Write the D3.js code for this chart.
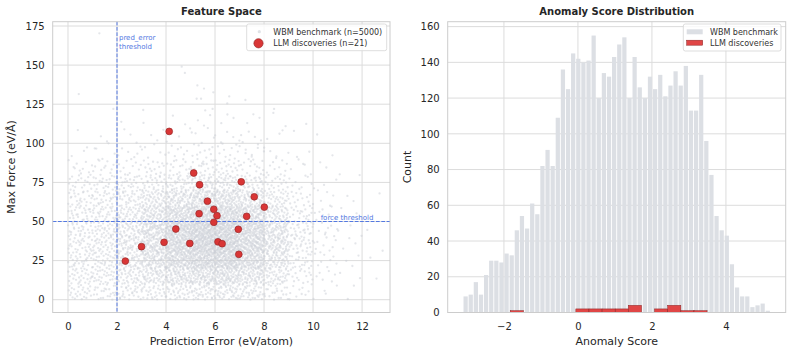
<!DOCTYPE html>
<html><head><meta charset="utf-8">
<script src="https://cdn.jsdelivr.net/npm/d3@7"></script>
<style>
body{margin:0;background:#fff}
text{font-family:"DejaVu Sans",sans-serif}
</style></head>
<body><svg id="c" width="793" height="355"></svg>
<script>
// ---------------- DATA ----------------
// LLM discoveries (21 points)
const llmPredError = [4.13,5.13,5.37,7.07,7.60,5.69,8.01,5.95,5.35,6.08,7.29,5.95,6.95,4.40,3.00,3.92,4.97,6.12,6.29,6.97,2.34];
const llmMaxForce  = [107.6,81,73.5,75.4,65.8,63,59.2,57.8,55,53.7,53.3,49.5,45,45.2,33.9,36.7,36,37,35.8,29,24.7];

// WBM benchmark cloud (n=5000), estimated as counts per cell (1 eV/atom x 10 eV/Å)
const wbmXEdges = [0,1,2,3,4,5,6,7,8,9,10,11,12,13];
const wbmYEdges = [0,10,20,30,40,50,60,70,80,90,100,110,120];
const wbmDensity = [ // one row per x-bin, one entry per y-bin
  [25,30,30,30,30,28,25,18,10,3,1,0],
  [25,32,34,35,35,32,28,20,12,5,2,0],
  [28,40,48,50,48,40,32,22,12,6,3,1],
  [30,55,75,85,85,70,48,28,14,6,3,1],
  [35,70,110,130,130,100,65,32,15,7,3,2],
  [40,80,130,160,160,120,80,40,20,10,5,3],
  [42,85,135,160,155,115,78,40,20,10,5,3],
  [35,65,100,120,120,90,57,30,15,8,5,3],
  [22,40,58,70,68,52,33,18,9,5,3,2],
  [10,16,22,26,25,20,14,8,5,2,1,1],
  [4,6,8,9,9,7,5,3,2,1,1,0],
  [2,2,3,3,3,3,2,1,1,0,0,0],
  [0,1,1,1,1,0,1,0,0,0,0,0]
];
const wbmOutliers = [[1.28,170.3],[0.44,131.5],[4.64,149],[4.77,145],[5.28,137],[5.55,135],[5.93,132.6],
  [5.25,128.5],[5.43,128.5],[6.58,130],[7.24,127.7],[8.41,122],[6.5,125.5],[5.6,121],[5.9,122],[3.07,121.3],[1.85,122]];

const predErrorThreshold = 2;
const forceThreshold = 50;

// Anomaly score histograms
const wbmScoreRange = [-3.105, 5.20];
const wbmScoreCounts = [9,10,17,10,21,29,29,28,33,32,46,54,47,61,55,82,91,82,109,136,
  125,145,142,140,141,155,120,134,132,143,150,154,120,143,126,120,132,125,133,121,
  127,135,127,138,113,113,133,96,77,54,46,43,27,14,9,9,3,4,5,1];
const llmScoreRange = [-1.83, 3.49];
const llmScoreCounts = [1,0,0,0,0,2,2,2,2,4,0,2,4,1,1];

const leftXTicks = [0,2,4,6,8,10,12];
const leftYTicks = [0,25,50,75,100,125,150,175];
const rightXTicks = [-2,0,2,4];
const rightYTicks = [0,20,40,60,80,100,120,140,160];

// ---------------- DRAW ----------------
const svg = d3.select("#c");
const TOP = 21.7, BOT = 312.5;
const gridC = "#dcdcdc", spineC = "#cccccc", txtC = "#262626";
const blue = "#5479e2";

function frame(x, y, xt, yt){
  const g = svg.append("g");
  g.selectAll(".gx").data(xt).join("line").attr("x1",d=>x(d)).attr("x2",d=>x(d))
    .attr("y1",TOP).attr("y2",BOT).attr("stroke",gridC).attr("stroke-width",1);
  g.selectAll(".gy").data(yt).join("line").attr("y1",d=>y(d)).attr("y2",d=>y(d))
    .attr("x1",x.range()[0]).attr("x2",x.range()[1]).attr("stroke",gridC).attr("stroke-width",1);
  return g;
}
function axes(x, y, xt, yt, fmt){
  const ax = svg.append("g").attr("transform",`translate(0,${BOT})`)
    .call(d3.axisBottom(x).tickValues(xt).tickSize(0).tickPadding(10).tickFormat(fmt));
  const ay = svg.append("g").attr("transform",`translate(${x.range()[0]},0)`)
    .call(d3.axisLeft(y).tickValues(yt).tickSize(0).tickPadding(8));
  [ax,ay].forEach(a=>{a.select(".domain").remove();
    a.selectAll("text").attr("fill",txtC).style("font-size","10px").style("font-family","DejaVu Sans");});
  svg.append("rect").attr("x",x.range()[0]).attr("y",TOP).attr("width",x.range()[1]-x.range()[0])
    .attr("height",BOT-TOP).attr("fill","none").attr("stroke",spineC).attr("stroke-width",1);
}
const minusFmt = d => d<0 ? "\u2212"+Math.abs(d) : String(d);

// ---- Left panel ----
const xL = d3.scaleLinear([-0.624, 13.14],[52.7,390]);
const yL = d3.scaleLinear([-8.18, 177.75],[BOT,TOP]);
frame(xL,yL,leftXTicks,leftYTicks);

function halton(i,b){let f=1,r=0;while(i>0){f/=b;r+=f*(i%b);i=Math.floor(i/b);}return r;}
const cloud = [];
let k = 1;
wbmDensity.forEach((row,ci)=>row.forEach((n,ri)=>{
  const x0=wbmXEdges[ci], x1=wbmXEdges[ci+1], y0=wbmYEdges[ri], y1=wbmYEdges[ri+1];
  for(let j=0;j<n;j++){ cloud.push([x0+halton(k,2)*(x1-x0), y0+halton(k,3)*(y1-y0)]); k++; }
}));
wbmOutliers.forEach(p=>cloud.push(p));
svg.append("g").selectAll("circle").data(cloud).join("circle")
  .attr("cx",d=>xL(d[0])).attr("cy",d=>yL(d[1])).attr("r",1.15)
  .attr("fill","#c9ced6").attr("fill-opacity",0.5);

// thresholds
svg.append("line").attr("x1",xL(predErrorThreshold)).attr("x2",xL(predErrorThreshold)).attr("y1",TOP).attr("y2",BOT)
  .attr("stroke",blue).attr("stroke-width",1).attr("stroke-dasharray","3.7,1.6");
svg.append("line").attr("y1",yL(forceThreshold)).attr("y2",yL(forceThreshold)).attr("x1",52.7).attr("x2",390)
  .attr("stroke",blue).attr("stroke-width",1).attr("stroke-dasharray","3.7,1.6");
const ann = svg.append("text").attr("fill",blue).style("font-size","7px");
ann.append("tspan").attr("x",xL(2.08)).attr("y",39.5).text("pred_error");
ann.append("tspan").attr("x",xL(2.08)).attr("y",48.5).text("threshold");
svg.append("text").attr("x",xL(10.31)).attr("y",yL(forceThreshold)-1.8).attr("fill",blue)
  .style("font-size","7px").text("force threshold");

// LLM points
svg.append("g").selectAll("circle").data(llmPredError.map((v,i)=>[v,llmMaxForce[i]])).join("circle")
  .attr("cx",d=>xL(d[0])).attr("cy",d=>yL(d[1])).attr("r",3.4)
  .attr("fill","#d93636").attr("stroke","#9a2a2a").attr("stroke-width",0.7);

axes(xL,yL,leftXTicks,leftYTicks,minusFmt);

// legend left
const lgL = svg.append("g");
lgL.append("rect").attr("x",246.7).attr("y",24).attr("width",140).attr("height",26.7).attr("rx",2)
  .attr("fill","#fff").attr("fill-opacity",0.8).attr("stroke","#d4d4d4").attr("stroke-width",0.8);
lgL.append("circle").attr("cx",259.3).attr("cy",31.7).attr("r",1.6).attr("fill","#c9ced6").attr("fill-opacity",0.6);
lgL.append("circle").attr("cx",258.5).attr("cy",43.3).attr("r",4.6).attr("fill","#d93636").attr("stroke","#9a2a2a").attr("stroke-width",0.7);
lgL.append("text").attr("x",273.3).attr("y",34.5).attr("fill","#333").style("font-size","8px").text("WBM benchmark (n=5000)");
lgL.append("text").attr("x",273.3).attr("y",46.1).attr("fill","#333").style("font-size","8px").text("LLM discoveries (n=21)");

// titles & labels left
svg.append("text").attr("x",221.4).attr("y",14.6).attr("text-anchor","middle").attr("fill",txtC)
  .style("font-size","10px").style("font-weight","bold").text("Feature Space");
svg.append("text").attr("x",221.4).attr("y",344.5).attr("text-anchor","middle").attr("fill",txtC)
  .style("font-size","11px").text("Prediction Error (eV/atom)");
svg.append("text").attr("transform","translate(15.3,167) rotate(-90)").attr("text-anchor","middle").attr("fill",txtC)
  .style("font-size","11px").text("Max Force (eV/Å)");

// ---- Right panel ----
const xR = d3.scaleLinear([-3.52, 5.615],[447.7,785.7]);
const yR = d3.scaleLinear([0, 162.75],[BOT,TOP]);
frame(xR,yR,rightXTicks,rightYTicks);

function bins(range, counts){
  const w = (range[1]-range[0])/counts.length;
  return counts.map((c,i)=>({x0:range[0]+i*w, x1:range[0]+(i+1)*w, c}));
}
svg.append("g").selectAll("rect").data(bins(wbmScoreRange,wbmScoreCounts)).join("rect")
  .attr("x",d=>xR(d.x0)+0.45).attr("width",d=>xR(d.x1)-xR(d.x0)-0.9)
  .attr("y",d=>yR(d.c)).attr("height",d=>yR(0)-yR(d.c)).attr("fill","#dcdfe4");
svg.append("g").selectAll("rect").data(bins(llmScoreRange,llmScoreCounts).filter(d=>d.c>0)).join("rect")
  .attr("x",d=>xR(d.x0)).attr("width",d=>xR(d.x1)-xR(d.x0))
  .attr("y",d=>yR(d.c)).attr("height",d=>yR(0)-yR(d.c))
  .attr("fill","#e04646").attr("stroke","#8a2424").attr("stroke-width",0.5);

axes(xR,yR,rightXTicks,rightYTicks,minusFmt);

const lgR = svg.append("g");
lgR.append("rect").attr("x",683.3).attr("y",24).attr("width",97.7).attr("height",27).attr("rx",2)
  .attr("fill","#fff").attr("fill-opacity",0.8).attr("stroke","#d4d4d4").attr("stroke-width",0.8);
lgR.append("rect").attr("x",686.7).attr("y",29.3).attr("width",16).attr("height",5).attr("fill","#dcdfe4");
lgR.append("rect").attr("x",686.7).attr("y",40.2).attr("width",16).attr("height",5).attr("fill","#e04646").attr("stroke","#8a2424").attr("stroke-width",0.5);
lgR.append("text").attr("x",710).attr("y",34.5).attr("fill","#333").style("font-size","8px").text("WBM benchmark");
lgR.append("text").attr("x",710).attr("y",45.5).attr("fill","#333").style("font-size","8px").text("LLM discoveries");

svg.append("text").attr("x",616.7).attr("y",14.6).attr("text-anchor","middle").attr("fill",txtC)
  .style("font-size","10px").style("font-weight","bold").text("Anomaly Score Distribution");
svg.append("text").attr("x",616.7).attr("y",344.5).attr("text-anchor","middle").attr("fill",txtC)
  .style("font-size","11px").text("Anomaly Score");
svg.append("text").attr("transform","translate(410.5,167) rotate(-90)").attr("text-anchor","middle").attr("fill",txtC)
  .style("font-size","11px").text("Count");
</script></body></html>
